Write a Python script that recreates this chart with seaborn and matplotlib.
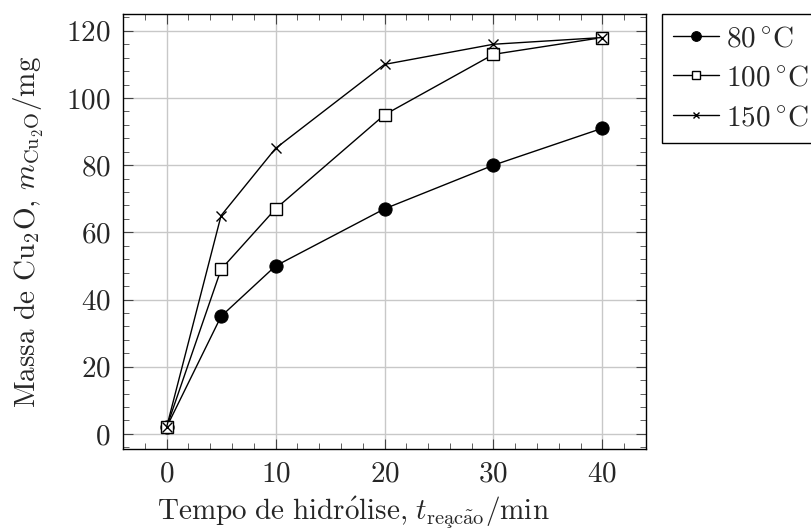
import pandas as pd
import matplotlib
matplotlib.use("Agg")
import matplotlib.pyplot as plt
import seaborn as sns
from matplotlib.ticker import MultipleLocator

tempo = [0, 5, 10, 20, 30, 40]
massa_80 = [2, 35, 50, 67, 80, 91]
massa_100 = [2, 49, 67, 95, 113, 118]
massa_150 = [2, 65, 85, 110, 116, 118]
series_labels = [r"$80\,^{\circ}\mathrm{C}$", r"$100\,^{\circ}\mathrm{C}$", r"$150\,^{\circ}\mathrm{C}$"]

sns.set_style("ticks")
plt.rcParams["font.family"] = ["cmr10", "DejaVu Serif"]
plt.rcParams["mathtext.fontset"] = "cm"
plt.rcParams["axes.formatter.use_mathtext"] = True
plt.rcParams["axes.unicode_minus"] = False

df = pd.DataFrame({
    "tempo": tempo * 3,
    "massa": massa_80 + massa_100 + massa_150,
    "serie": [series_labels[0]] * 6 + [series_labels[1]] * 6 + [series_labels[2]] * 6,
})

fig = plt.figure(figsize=(8.12, 5.31), dpi=100)
ax = fig.add_axes([0.1515, 0.1544, 0.6441, 0.8192])

styles = [
    dict(marker="o", markersize=9.5, markerfacecolor="black", markeredgecolor="black"),
    dict(marker="s", markersize=8.5, markerfacecolor="white", markeredgecolor="black", markeredgewidth=1.0),
    dict(marker="x", markersize=7, markeredgecolor="black", markeredgewidth=1.0),
]

for lab, st in zip(series_labels, styles):
    sub = df[df["serie"] == lab]
    sns.lineplot(data=sub, x="tempo", y="massa", color="black", linewidth=1.0,
                 label=lab, ax=ax, **st)

ax.set_xlim(-4, 44)
ax.set_ylim(-4.5, 125)
ax.xaxis.set_major_locator(MultipleLocator(10))
ax.xaxis.set_minor_locator(MultipleLocator(2))
ax.yaxis.set_major_locator(MultipleLocator(20))
ax.yaxis.set_minor_locator(MultipleLocator(4))
ax.grid(True, which="major", color="#c8c8c8", linewidth=1.0)
ax.set_axisbelow(True)
ax.tick_params(which="both", direction="in", top=True, right=True, color="#444444",
               labelsize=21, pad=9)
ax.tick_params(which="major", length=7, width=0.8)
ax.tick_params(which="minor", length=4, width=0.6)
for sp in ax.spines.values():
    sp.set_linewidth(1.0)
    sp.set_color("black")

ax.set_xlabel(r"$\mathrm{Tempo\ de\ hidr\acute{o}lise{,}}\ t_{\mathrm{rea\c{c}\tilde{a}o}}/\mathrm{min}$",
              fontsize=21, labelpad=8)
ax.set_ylabel(r"Massa de Cu$_2$O, $m_{\mathrm{Cu_2O}}$/mg", fontsize=21, labelpad=14)
ax.xaxis.set_label_coords(0.44, -0.105)

leg = ax.legend(loc="upper left", bbox_to_anchor=(1.03, 1.0), fontsize=21,
                frameon=True, fancybox=False, edgecolor="black", framealpha=1,
                borderpad=0.4, labelspacing=0.45, handlelength=1.55, handletextpad=0.25,
                borderaxespad=0)
leg.get_frame().set_linewidth(1.0)
for h, ms in zip(leg.legend_handles, [7, 6, 5]):
    h.set_markersize(ms)

fig.savefig("out.png", dpi=100)
